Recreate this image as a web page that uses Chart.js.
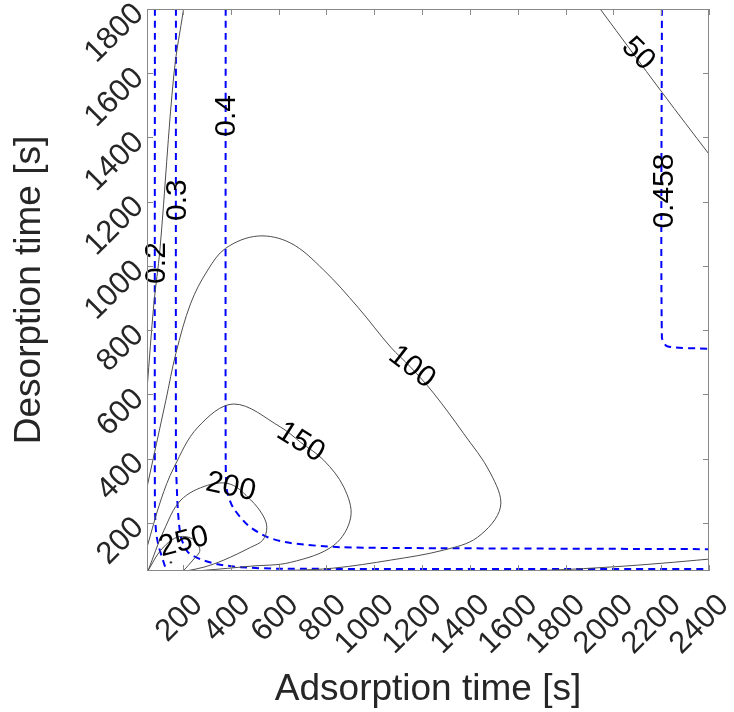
<!DOCTYPE html>
<html>
<head>
<meta charset="utf-8">
<script src="https://cdn.jsdelivr.net/npm/chart.js@4.4.1/dist/chart.umd.min.js"></script>
<style>
html, body { margin: 0; padding: 0; background: #fff; }
#wrap { width: 734px; height: 712px; }
</style>
</head>
<body>
<div id="wrap"><canvas id="contourChart"></canvas></div>
<script>
// tick labels
var xTicks = [200, 400, 600, 800, 1000, 1200, 1400, 1600, 1800, 2000, 2200, 2400];
var yTicks = [200, 400, 600, 800, 1000, 1200, 1400, 1600, 1800];

// black contours (productivity)
var c50aX = [203, 163, 104, 79, 50];
var c50aY = [1800, 1601, 1050, 884, 615];
var c50bX = [1945, 2205, 2400];
var c50bY = [1800, 1539, 1348];
var c50cX = [1550, 1750, 2000, 2200, 2400];
var c50cY = [50, 53, 63, 74, 87];
var c100X = [50, 129, 171, 233, 304, 379, 513, 651, 789, 931, 1069, 1152, 1248, 1373, 1486, 1528, 1432, 1290, 1069, 831, 650, 480];
var c100Y = [311, 582, 728, 884, 987, 1055, 1093, 1071, 987, 872, 747, 685, 604, 479, 355, 249, 155, 115, 84, 59, 52, 50];
var c150X = [50, 108, 163, 263, 413, 609, 692, 789, 873, 902, 831, 651, 484, 288, 230];
var c150Y = [124, 271, 373, 498, 570, 498, 451, 395, 311, 218, 130, 77, 65, 52, 50];
var c200X = [55, 121, 192, 304, 400, 484, 534, 551, 534, 484, 371, 288, 213];
var c200Y = [52, 177, 271, 317, 320, 271, 224, 186, 146, 124, 84, 62, 50];
var c250X = [55, 108, 175, 240, 271, 242, 204];
var c250Y = [52, 115, 155, 150, 115, 84, 52];
var peakX = [150];
var peakY = [77];

// blue dashed contours (purity)
var b02X = [83, 83, 88, 100, 121, 132];
var b02Y = [1800, 260, 170, 124, 74, 50];
var b03X = [171, 171, 175, 180, 192, 221, 275, 346, 442, 609, 2400];
var b03Y = [1800, 400, 302, 230, 155, 109, 86, 71, 62, 57, 56];
var b04X = [379, 379, 384, 409, 471, 555, 651, 860, 1278, 2400];
var b04Y = [1800, 400, 302, 249, 193, 155, 137, 124, 121, 118];
var b0458X = [2203, 2203, 2225, 2400];
var b0458Y = [1800, 778, 750, 742];

// contour labels
var labelText = ['50', '100', '150', '200', '250', '0.2', '0.3', '0.4', '0.458'];
var labelX = [2104, 1157, 692, 400, 204, 92, 179, 384, 2214];
var labelY = [1660, 685, 451, 311, 140, 1009, 1205, 1467, 1233];
var labelAngle = [45, 38, 32, 12, -15, -90, -90, -90, -90];

function pts(xs, ys) {
    var out = [];
    for (var i = 0; i < xs.length; i++) {
        out.push({x: xs[i], y: ys[i]});
    }
    return out;
}

function blackLine(xs, ys) {
    return {
        data: pts(xs, ys),
        showLine: true,
        borderColor: '#4d4d4d',
        borderWidth: 1,
        pointRadius: 0,
        tension: 0.35,
        fill: false
    };
}

function blueLine(xs, ys) {
    return {
        data: pts(xs, ys),
        showLine: true,
        borderColor: '#0000ff',
        borderWidth: 2,
        borderDash: [7, 5],
        pointRadius: 0,
        tension: 0.25,
        fill: false
    };
}

function noPad(s) {
    s.paddingTop = 0;
    s.paddingBottom = 0;
    s.paddingLeft = 0;
    s.paddingRight = 0;
}

var FONT = '"Liberation Sans", Arial, sans-serif';
var TXT = '#262626';

var framePlugin = {
    id: 'frame',
    afterDatasetsDraw: function(chart) {
        var ctx = chart.ctx;
        var a = chart.chartArea;
        var xs = chart.scales.x;
        var ys = chart.scales.y;
        ctx.save();

        ctx.font = '30px ' + FONT;
        ctx.fillStyle = '#000';
        ctx.textAlign = 'center';
        ctx.textBaseline = 'middle';
        for (var i = 0; i < labelText.length; i++) {
            ctx.save();
            ctx.translate(xs.getPixelForValue(labelX[i]), ys.getPixelForValue(labelY[i]));
            ctx.rotate(labelAngle[i] * Math.PI / 180);
            ctx.fillText(labelText[i], 0, 0);
            ctx.restore();
        }

        ctx.strokeStyle = '#888';
        ctx.lineWidth = 1;
        ctx.strokeRect(Math.round(a.left) + 0.5, Math.round(a.top) + 0.5,
            Math.round(a.width) - 1, Math.round(a.height) - 1);
        ctx.beginPath();
        var t = 6;
        xTicks.forEach(function(v) {
            var px = Math.round(xs.getPixelForValue(v)) + 0.5;
            ctx.moveTo(px, a.bottom); ctx.lineTo(px, a.bottom - t);
            ctx.moveTo(px, a.top); ctx.lineTo(px, a.top + t);
        });
        yTicks.forEach(function(v) {
            var py = Math.round(ys.getPixelForValue(v)) + 0.5;
            ctx.moveTo(a.left, py); ctx.lineTo(a.left + t, py);
            ctx.moveTo(a.right, py); ctx.lineTo(a.right - t, py);
        });
        ctx.stroke();
        ctx.restore();
    }
};

var CHART = document.getElementById('contourChart');
var contourChart = new Chart(CHART, {
    type: 'scatter',
    data: {
        datasets: [
            blackLine(c50aX, c50aY),
            blackLine(c50bX, c50bY),
            blackLine(c50cX, c50cY),
            blackLine(c100X, c100Y),
            blackLine(c150X, c150Y),
            blackLine(c200X, c200Y),
            blackLine(c250X, c250Y),
            {
                data: pts(peakX, peakY),
                pointRadius: 1.2,
                pointBackgroundColor: '#333',
                pointBorderWidth: 0,
                showLine: false
            },
            blueLine(b02X, b02Y),
            blueLine(b03X, b03Y),
            blueLine(b04X, b04Y),
            blueLine(b0458X, b0458Y)
        ]
    },
    options: {
        responsive: true,
        maintainAspectRatio: false,
        animation: false,
        layout: { padding: { top: 9, right: 25, left: 0, bottom: 0 } },
        plugins: {
            legend: { display: false },
            tooltip: { enabled: false }
        },
        scales: {
            x: {
                type: 'linear',
                min: 50,
                max: 2400,
                afterBuildTicks: function(s) {
                    s.ticks = xTicks.map(function(v) { return {value: v}; });
                },
                afterFit: function(s) { s.height = 141; noPad(s); },
                grid: { display: false },
                border: { display: false },
                ticks: {
                    autoSkip: false,
                    minRotation: 45,
                    maxRotation: 45,
                    padding: 8,
                    labelOffset: 15,
                    color: TXT,
                    font: { family: FONT, size: 31 },
                    callback: function(v) { return String(v); }
                },
                title: {
                    display: true,
                    text: 'Adsorption time [s]',
                    color: TXT,
                    font: { family: FONT, size: 37 },
                    padding: { top: 0, bottom: 0 }
                }
            },
            y: {
                type: 'linear',
                min: 50,
                max: 1800,
                afterBuildTicks: function(s) {
                    s.ticks = yTicks.map(function(v) { return {value: v}; });
                },
                afterFit: function(s) { s.width = 147; noPad(s); },
                grid: { display: false },
                border: { display: false },
                ticks: {
                    autoSkip: false,
                    minRotation: 45,
                    maxRotation: 45,
                    padding: 0,
                    color: TXT,
                    font: { family: FONT, size: 31 },
                    callback: function(v) { return String(v); }
                },
                title: {
                    display: true,
                    text: 'Desorption time [s]',
                    color: TXT,
                    font: { family: FONT, size: 37 },
                    padding: { top: 8, bottom: 0 }
                }
            }
        }
    },
    plugins: [framePlugin]
});
</script>
</body>
</html>
